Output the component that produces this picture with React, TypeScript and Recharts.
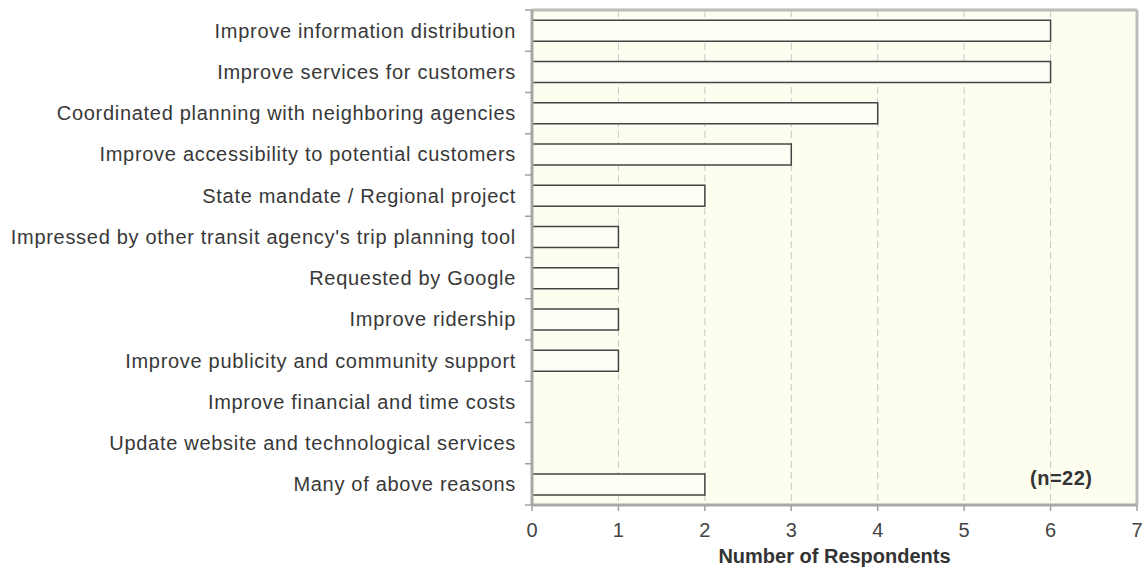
import React from 'react';
import { BarChart, Bar, XAxis, YAxis, CartesianGrid, Label } from 'recharts';

const categories = [
  'Improve information distribution',
  'Improve services for customers',
  'Coordinated planning with neighboring agencies',
  'Improve accessibility to potential customers',
  'State mandate / Regional project',
  "Impressed by other transit agency's trip planning tool",
  'Requested by Google',
  'Improve ridership',
  'Improve publicity and community support',
  'Improve financial and time costs',
  'Update website and technological services',
  'Many of above reasons',
];
const respondents = [6, 6, 4, 3, 2, 1, 1, 1, 1, 0, 0, 2];
const xTicks = [0, 1, 2, 3, 4, 5, 6, 7];
const noteText = '(n=22)';

const data = categories.map((c, i) => ({ name: c, value: respondents[i] }));

const W = 1144;
const H = 573;
const TOP = 9;
const XAXIS_H = 68;
const PLOT_H = H - TOP - 1 - XAXIS_H;
const BAND = PLOT_H / categories.length;
const FONT = 'Liberation Sans, Arial, sans-serif';

const YTick = (props: any) => {
  const { x, y, payload, index } = props;
  return (
    <g>
      <line x1={x + 1} x2={x + 8} y1={y - BAND / 2} y2={y - BAND / 2} stroke="#a0a0a0" strokeWidth={1.5} />
      {index === categories.length - 1 && (
        <line x1={x + 1} x2={x + 8} y1={y + BAND / 2} y2={y + BAND / 2} stroke="#a0a0a0" strokeWidth={1.5} />
      )}
      <text x={x - 8} y={y} dy={7} textAnchor="end" fontSize={20} letterSpacing={0.7} fill="#383838" fontFamily={FONT}>
        {payload.value}
      </text>
    </g>
  );
};

export default function App() {
  return (
    <div style={{ position: 'absolute', left: 0, top: 0, width: W, height: H }}>
      <BarChart
        width={W}
        height={H}
        data={data}
        layout="vertical"
        margin={{ top: TOP, right: 6, bottom: 0, left: 0 }}
        barCategoryGap="25%"
      >
        <CartesianGrid horizontal={false} vertical stroke="#c8c8c8" strokeDasharray="7 4" fill="#fdfdf0" />
        <XAxis
          type="number"
          domain={[0, 7]}
          ticks={xTicks}
          interval={0}
          height={XAXIS_H}
          axisLine={{ stroke: '#a8a8a8', strokeWidth: 3 }}
          tickLine={{ stroke: '#a0a0a0', strokeWidth: 1.5 }}
          tickSize={6}
          tickMargin={12}
          tick={{ fontSize: 20, fill: '#444', fontFamily: FONT }}
        >
          <Label
            value="Number of Respondents"
            position="insideBottom"
            offset={10}
            style={{ fontSize: 20, fontWeight: 'bold', fill: '#333', fontFamily: FONT }}
          />
        </XAxis>
        <XAxis
          xAxisId="top"
          orientation="top"
          type="number"
          domain={[0, 7]}
          height={1}
          tick={false}
          tickLine={false}
          axisLine={{ stroke: '#bcbcbc', strokeWidth: 3 }}
        />
        <YAxis
          type="category"
          dataKey="name"
          width={532}
          interval={0}
          tickLine={false}
          axisLine={{ stroke: '#a8a8a8', strokeWidth: 3 }}
          tick={<YTick />}
        />
        <YAxis
          yAxisId="right"
          orientation="right"
          type="category"
          dataKey="name"
          width={1}
          tick={false}
          tickLine={false}
          axisLine={{ stroke: '#bcbcbc', strokeWidth: 3 }}
        />
        <Bar dataKey="value" fill="#fefef5" stroke="#444" strokeWidth={1.5} isAnimationActive={false} />
      </BarChart>
      <div
        style={{
          position: 'absolute',
          left: 1030,
          top: 466,
          fontFamily: FONT,
          fontSize: 20,
          fontWeight: 'bold',
          color: '#333',
          lineHeight: '24px',
          letterSpacing: 0.5,
        }}
      >
        {noteText}
      </div>
    </div>
  );
}
